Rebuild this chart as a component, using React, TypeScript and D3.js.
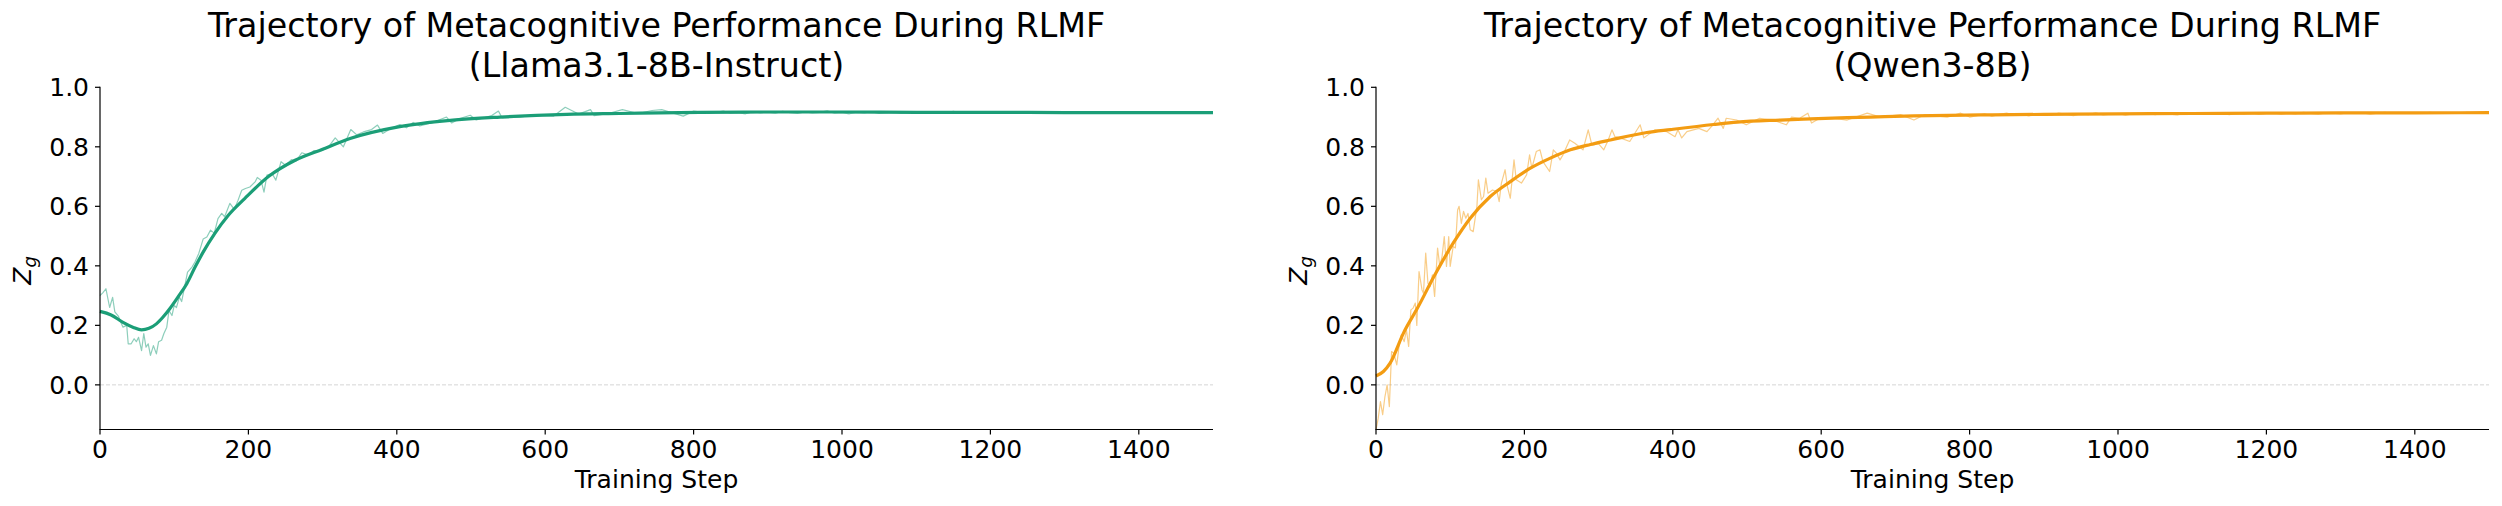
import React from "react";
import * as d3 from "d3";

// ---------------- DATA ----------------
const xTicks = [0, 200, 400, 600, 800, 1000, 1200, 1400];
const yTicks = [0.0, 0.2, 0.4, 0.6, 0.8, 1.0];

const plateauSteps = [810,820,830,840,850,860,870,880,890,900,910,920,930,940,950,960,970,980,990,1000,1010,1020,1030,1040,1050,1060,1070,1080,1090,1100,1110,1120,1130,1140,1150,1160,1170,1180,1190,1200,1210,1220,1230,1240,1250,1260,1270,1280,1290,1300,1310,1320,1330,1340,1350,1360,1370,1380,1390,1400,1410,1420,1430,1440,1450,1460,1470,1480,1490,1500];

// Llama3.1-8B-Instruct raw trajectory
const llamaRawSteps = [0,4,8,13,17,20,25,27,31,36,38,42,46,49,52,56,59,62,65,68,72,76,79,83,86,90,93,97,100,103,107,110,114,118,124,128,133,139,144,149,154,159,164,168,175,181,186,191,196,202,209,212,217,221,225,232,237,244,250,258,264,272,281,288,299,308,317,328,338,346,355,366,374,381,391,404,413,422,431,449,467,474,485,499,507,528,537,542,566,584,611,627,645,661,666,685,704,725,744,757,786,800, ...plateauSteps];
const llamaRawValues = [0.30,0.31,0.323,0.26,0.294,0.245,0.23,0.216,0.194,0.20,0.138,0.138,0.155,0.145,0.16,0.115,0.172,0.127,0.138,0.099,0.132,0.104,0.145,0.15,0.172,0.194,0.25,0.233,0.267,0.26,0.295,0.28,0.329,0.379,0.396,0.413,0.441,0.49,0.497,0.52,0.51,0.559,0.576,0.565,0.61,0.59,0.62,0.654,0.66,0.665,0.682,0.697,0.688,0.648,0.705,0.71,0.688,0.75,0.738,0.757,0.752,0.78,0.772,0.787,0.787,0.80,0.83,0.80,0.858,0.84,0.85,0.858,0.873,0.845,0.86,0.875,0.864,0.882,0.87,0.882,0.90,0.88,0.895,0.906,0.89,0.905,0.92,0.897,0.90,0.907,0.903,0.933,0.91,0.925,0.905,0.912,0.925,0.912,0.922,0.925,0.903,0.92,
  0.917,0.912,0.916,0.920,0.913,0.915,0.911,0.918,0.914,0.916,
  0.913,0.919,0.915,0.912,0.917,0.914,0.916,0.921,0.913,0.915,
  0.911,0.916,0.914,0.918,0.912,0.915,0.917,0.913,0.916,0.914,
  0.912,0.917,0.915,0.913,0.919,0.914,0.916,0.912,0.915,0.917,
  0.913,0.915,0.918,0.914,0.912,0.916,0.915,0.913,0.917,0.914,
  0.916,0.912,0.915,0.918,0.913,0.915,0.914,0.917,0.912,0.916,
  0.914,0.915,0.913,0.917,0.915,0.912,0.916,0.914,0.915,0.916];

// Llama smoothed trend
const llamaSmoothSteps = [0,15,31,45,56,66,76,85,94,105,117,128,139,155,173,195,227,263,300,337,404,472,539,629,700,808,900,1000,1100,1200,1300,1400,1500];
const llamaSmoothValues = [0.247,0.235,0.21,0.193,0.185,0.19,0.205,0.228,0.256,0.295,0.34,0.395,0.446,0.51,0.57,0.626,0.70,0.755,0.792,0.828,0.868,0.889,0.90,0.909,0.912,0.916,0.917,0.917,0.916,0.916,0.915,0.915,0.915];

// Qwen3-8B raw trajectory
const qwenRawSteps = [0,3,6,9,12,15,18,21,24,28,31,34,38,41,44,47,50,53,55,58,62,64,67,70,73,76,79,83,86,89,92,95,98,100,104,107,110,112,115,118,121,124,127,131,136,138,142,145,148,151,157,163,166,169,174,177,181,186,189,196,203,207,210,216,221,225,234,239,243,248,252,261,268,279,286,291,300,307,313,318,322,329,342,356,361,376,392,403,407,412,419,435,446,452,461,468,472,486,499,517,535,553,560,571,582,587,598,616,635,662,680,707,725,739,770,788,800, ...plateauSteps];
const qwenRawValues = [-0.151,-0.112,-0.056,-0.10,-0.04,0.0,-0.073,0.112,0.106,0.067,0.129,0.168,0.145,0.185,0.129,0.252,0.258,0.275,0.20,0.381,0.319,0.308,0.443,0.342,0.33,0.37,0.297,0.46,0.398,0.431,0.498,0.398,0.498,0.398,0.465,0.46,0.588,0.60,0.543,0.583,0.56,0.576,0.521,0.515,0.60,0.689,0.622,0.633,0.695,0.644,0.655,0.65,0.616,0.678,0.723,0.667,0.627,0.756,0.689,0.678,0.706,0.773,0.728,0.784,0.79,0.75,0.717,0.79,0.779,0.756,0.773,0.823,0.812,0.79,0.857,0.806,0.81,0.79,0.823,0.857,0.834,0.83,0.818,0.874,0.83,0.857,0.851,0.834,0.857,0.83,0.851,0.862,0.851,0.868,0.896,0.862,0.896,0.89,0.874,0.896,0.89,0.874,0.90,0.896,0.913,0.88,0.896,0.896,0.89,0.913,0.90,0.908,0.89,0.908,0.90,0.913,0.90,
  0.905,0.911,0.903,0.909,0.913,0.906,0.910,0.904,0.912,0.908,
  0.906,0.913,0.909,0.905,0.911,0.908,0.914,0.907,0.910,0.912,
  0.906,0.911,0.909,0.915,0.908,0.912,0.910,0.907,0.913,0.911,
  0.909,0.914,0.910,0.912,0.908,0.913,0.911,0.915,0.909,0.912,
  0.914,0.910,0.913,0.911,0.916,0.912,0.910,0.914,0.913,0.911,
  0.915,0.912,0.914,0.910,0.913,0.916,0.912,0.914,0.913,0.915,
  0.912,0.916,0.913,0.914,0.915,0.912,0.916,0.914,0.915,0.914];

// Qwen smoothed trend
const qwenSmoothSteps = [0,10,19,37,57,77,104,127,154,181,208,235,262,289,316,365,397,455,487,545,576,635,666,725,815,900,1000,1100,1200,1300,1400,1500];
const qwenSmoothValues = [0.03,0.045,0.073,0.174,0.263,0.359,0.476,0.56,0.633,0.683,0.728,0.762,0.79,0.808,0.823,0.848,0.858,0.875,0.883,0.89,0.893,0.898,0.90,0.904,0.907,0.909,0.911,0.912,0.913,0.914,0.914,0.915];

const titles = [
  ["Trajectory of Metacognitive Performance During RLMF", "(Llama3.1-8B-Instruct)"],
  ["Trajectory of Metacognitive Performance During RLMF", "(Qwen3-8B)"],
];
const colors = ["#1b9e77", "#f39c12"];

// ---------------- CHART ----------------
const FONT = "'DejaVu Sans', sans-serif";

function Panel({ left, right, title, color, rawS, rawV, smS, smV }) {
  const top = 87.3;
  const bottom = 429.5;
  const x = d3.scaleLinear().domain([0, 1500]).range([left, right]);
  const y = d3.scaleLinear().domain([-0.15, 1.0]).range([bottom, top]);
  const rawLine = d3.line<number>().x((d, i) => x(rawS[i])).y((d) => y(d)).curve(d3.curveLinear);
  const smLine = d3.line<number>().x((d, i) => x(smS[i])).y((d) => y(d)).curve(d3.curveMonotoneX);
  const cx = (left + right) / 2;
  const midY = (top + bottom) / 2;
  return (
    <g fontFamily={FONT}>
      <text x={cx} y={37} textAnchor="middle" fontSize={33.3} fill="#000">{title[0]}</text>
      <text x={cx} y={77} textAnchor="middle" fontSize={33.3} fill="#000">{title[1]}</text>
      {/* zero reference line */}
      <line x1={x(0)} x2={x(1500)} y1={y(0)} y2={y(0)} stroke="#cccccc" strokeWidth={1} strokeDasharray="4,2" opacity={0.8} />
      <path d={rawLine(rawV) || ""} fill="none" stroke={color} strokeWidth={1.2} opacity={0.5} strokeLinejoin="round" />
      <path d={smLine(smV) || ""} fill="none" stroke={color} strokeWidth={3.2} strokeLinejoin="round" strokeLinecap="butt" />
      {/* spines */}
      <line x1={left} x2={left} y1={top - 0.5} y2={bottom} stroke="#000" strokeWidth={1.2} />
      <line x1={left - 0.6} x2={right} y1={bottom} y2={bottom} stroke="#000" strokeWidth={1.2} />
      {xTicks.map((t) => (
        <g key={"x" + t}>
          <line x1={x(t)} x2={x(t)} y1={bottom} y2={bottom + 5} stroke="#000" strokeWidth={1.2} />
          <text x={x(t)} y={458} textAnchor="middle" fontSize={25} fill="#000">{t}</text>
        </g>
      ))}
      {yTicks.map((t) => (
        <g key={"y" + t}>
          <line x1={left - 5} x2={left} y1={y(t)} y2={y(t)} stroke="#000" strokeWidth={1.2} />
          <text x={left - 11} y={y(t) + 9.1} textAnchor="end" fontSize={25} fill="#000">{t.toFixed(1)}</text>
        </g>
      ))}
      <text x={cx} y={488} textAnchor="middle" fontSize={25} fill="#000">Training Step</text>
      <text transform={`translate(${left - 69},${midY + 12}) rotate(-90)`} textAnchor="middle" fontSize={25} fill="#000">
        <tspan fontStyle="italic">Z</tspan>
        <tspan fontStyle="italic" fontSize={18} dy={5}>g</tspan>
      </text>
    </g>
  );
}

export default function App() {
  return (
    <svg width={2502} height={506} style={{ position: "absolute", left: 0, top: 0, background: "#fff" }}>
      <rect width={2502} height={506} fill="#fff" />
      <Panel left={100} right={1213} title={titles[0]} color={colors[0]}
        rawS={llamaRawSteps} rawV={llamaRawValues} smS={llamaSmoothSteps} smV={llamaSmoothValues} />
      <Panel left={1376} right={2489} title={titles[1]} color={colors[1]}
        rawS={qwenRawSteps} rawV={qwenRawValues} smS={qwenSmoothSteps} smV={qwenSmoothValues} />
    </svg>
  );
}
